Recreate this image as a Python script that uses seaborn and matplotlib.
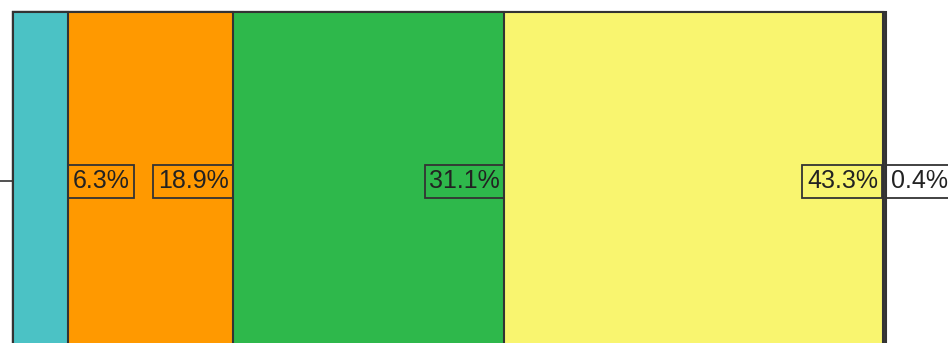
import numpy as np
import pandas as pd
import matplotlib
matplotlib.use("Agg")
import matplotlib.pyplot as plt
import seaborn as sns

# Share of each segment in the single stacked bar (percent)
segments = ["Segment 1", "Segment 2", "Segment 3", "Segment 4", "Segment 5"]
shares = [6.3, 18.9, 31.1, 43.3, 0.4]
seg_colors = ["#4bc2c5", "#ff9900", "#2eb84b", "#f9f56f", "#3a3a3a"]

sns.set_style("white")
plt.rcParams["font.family"] = ["Liberation Sans", "DejaVu Sans"]

df = pd.DataFrame({"row": [""] * len(shares), "segment": segments, "share": shares})
df["end"] = df["share"].cumsum()

W, H = 948, 343
fig = plt.figure(figsize=(W / 100, H / 100), dpi=100)
ax = fig.add_axes([13 / W, (H - 350) / H, 873 / W, 338 / H])

edge = "#333333"
# Stack by overlaying cumulative bars, widest first
for i in reversed(range(len(df))):
    sns.barplot(data=df.iloc[[i]], x="end", y="row", orient="h",
                color=seg_colors[i], saturation=1, width=1.0,
                edgecolor=edge, linewidth=1.5, ax=ax)

for p in ax.patches:
    p.set_clip_on(False)

ax.set_xlim(0, 100)
ax.set_ylim(0.5, -0.5)
ax.set_xlabel("")
ax.set_ylabel("")
ax.set_xticks([])
ax.set_yticks([0])
ax.set_yticklabels([""])
ax.tick_params(axis="y", length=9.4, width=1.2, color=edge, left=True)
for s in ax.spines.values():
    s.set_visible(False)

# Value labels at the end of each segment; narrow segments get theirs outside
pad_pt = 3.3
for _, r in df.iterrows():
    narrow = r["share"] < 10
    ax.annotate(f"{r['share']:.1f}%", xy=(r["end"], 0),
                xytext=(pad_pt if narrow else -pad_pt, 0), textcoords="offset points",
                ha="left" if narrow else "right", va="center",
                fontsize=18, color="#222222",
                bbox=dict(boxstyle="square,pad=0.18", fc="none", ec=edge, lw=1.3),
                annotation_clip=False)

fig.savefig("out.png", dpi=100)
